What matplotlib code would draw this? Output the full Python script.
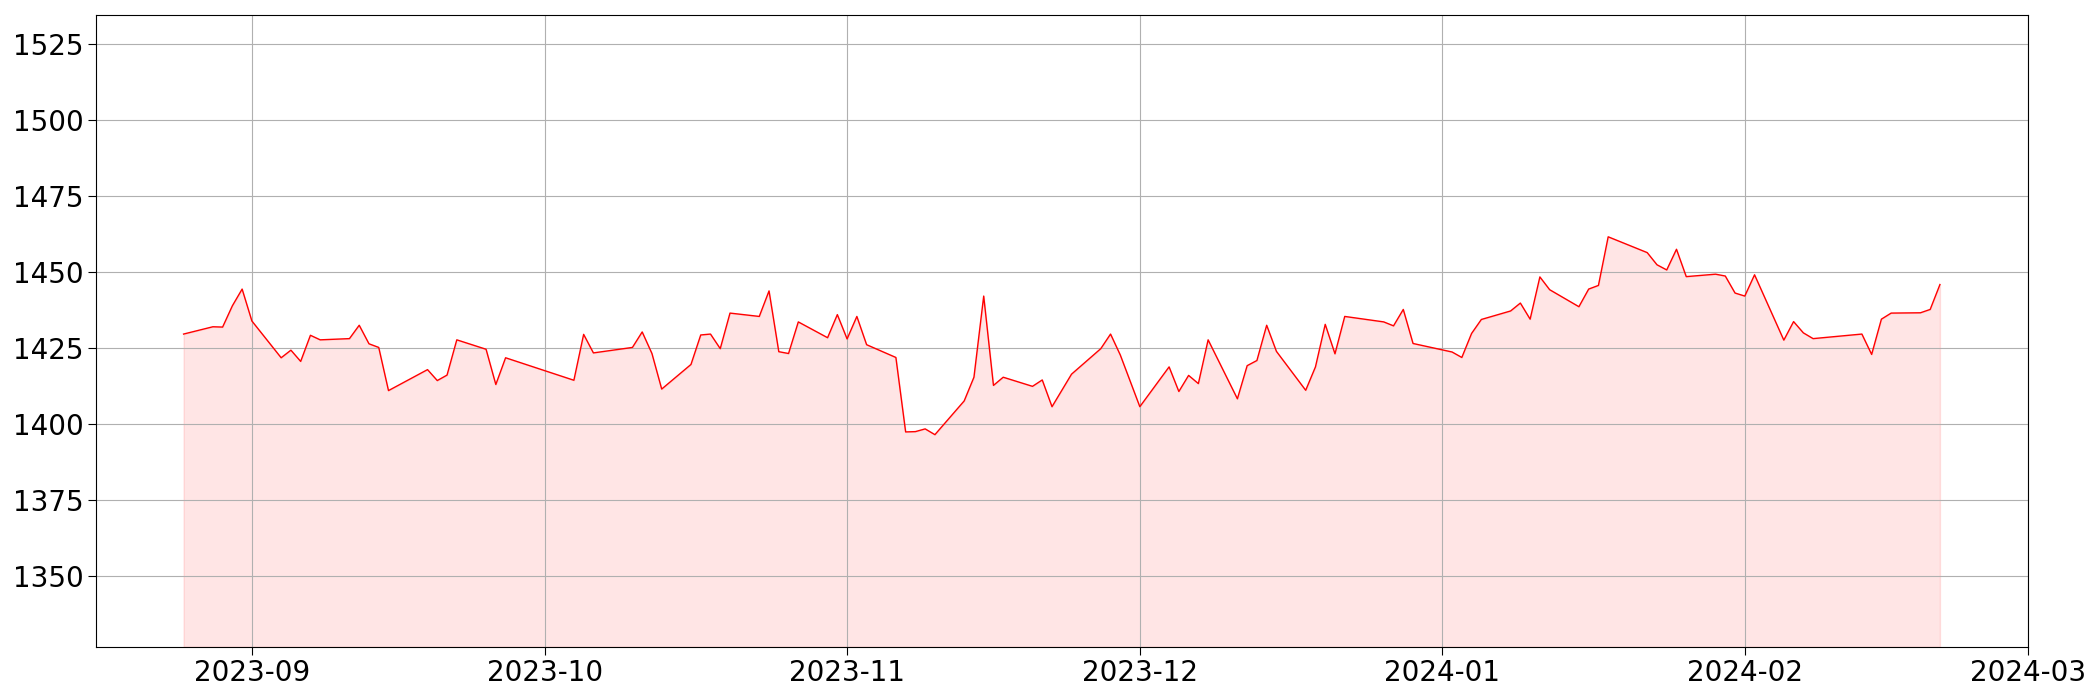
import matplotlib
matplotlib.use("Agg")
import matplotlib.pyplot as plt
import matplotlib.dates as mdates
import pandas as pd

# Trading days (some days missing in the source data)
dates = [
    "2023-08-25", "2023-08-28", "2023-08-29", "2023-08-30", "2023-08-31", "2023-09-01",
    "2023-09-04", "2023-09-05", "2023-09-06", "2023-09-07", "2023-09-08",
    "2023-09-11", "2023-09-12", "2023-09-13", "2023-09-14", "2023-09-15",
    "2023-09-19", "2023-09-20", "2023-09-21", "2023-09-22",
    "2023-09-25", "2023-09-26", "2023-09-27",
    "2023-10-04", "2023-10-05", "2023-10-06",
    "2023-10-10", "2023-10-11", "2023-10-12", "2023-10-13",
    "2023-10-16", "2023-10-17", "2023-10-18", "2023-10-19", "2023-10-20",
    "2023-10-23", "2023-10-24", "2023-10-25", "2023-10-26", "2023-10-27",
    "2023-10-30", "2023-10-31", "2023-11-01", "2023-11-02", "2023-11-03",
    "2023-11-06", "2023-11-07", "2023-11-08", "2023-11-09", "2023-11-10",
    "2023-11-13", "2023-11-14", "2023-11-15", "2023-11-16", "2023-11-17",
    "2023-11-20", "2023-11-21", "2023-11-22", "2023-11-24",
    "2023-11-27", "2023-11-28", "2023-11-29", "2023-12-01",
    "2023-12-04", "2023-12-05", "2023-12-06", "2023-12-07", "2023-12-08",
    "2023-12-11", "2023-12-12", "2023-12-13", "2023-12-14", "2023-12-15",
    "2023-12-18", "2023-12-19", "2023-12-20", "2023-12-21", "2023-12-22",
    "2023-12-26", "2023-12-27", "2023-12-28", "2023-12-29",
    "2024-01-02", "2024-01-03", "2024-01-04", "2024-01-05",
    "2024-01-08", "2024-01-09", "2024-01-10", "2024-01-11", "2024-01-12",
    "2024-01-15", "2024-01-16", "2024-01-17", "2024-01-18",
    "2024-01-22", "2024-01-23", "2024-01-24", "2024-01-25", "2024-01-26",
    "2024-01-29", "2024-01-30", "2024-01-31", "2024-02-01", "2024-02-02",
    "2024-02-05", "2024-02-06", "2024-02-07", "2024-02-08",
    "2024-02-13", "2024-02-14", "2024-02-15", "2024-02-16",
    "2024-02-19", "2024-02-20", "2024-02-21",
]

prices = [
    1429.6, 1432.0, 1431.9, 1438.9, 1444.4, 1433.9,
    1421.8, 1424.3, 1420.6, 1429.2, 1427.7,
    1428.1, 1432.5, 1426.4, 1425.2, 1411.0,
    1417.9, 1414.3, 1416.1, 1427.7,
    1424.6, 1413.0, 1421.8,
    1414.4, 1429.5, 1423.4,
    1425.2, 1430.3, 1423.2, 1411.5,
    1419.6, 1429.3, 1429.6, 1424.8, 1436.5,
    1435.4, 1443.8, 1423.8, 1423.2, 1433.6,
    1428.4, 1436.0, 1428.0, 1435.4, 1426.1,
    1421.9, 1397.4, 1397.5, 1398.4, 1396.5,
    1407.6, 1415.4, 1442.1, 1412.7, 1415.4,
    1412.4, 1414.5, 1405.7, 1416.4,
    1424.8, 1429.6, 1422.7, 1405.7,
    1418.8, 1410.7, 1416.0, 1413.3, 1427.7,
    1408.3, 1419.2, 1420.9, 1432.5, 1423.9,
    1411.1, 1418.8, 1432.8, 1423.1, 1435.4,
    1433.6, 1432.3, 1437.7, 1426.5,
    1423.7, 1421.9, 1429.8, 1434.4,
    1437.2, 1439.8, 1434.5, 1448.4, 1444.2,
    1438.6, 1444.4, 1445.6, 1461.6,
    1456.4, 1452.4, 1450.7, 1457.5, 1448.5,
    1449.3, 1448.7, 1443.1, 1442.1, 1449.1,
    1427.6, 1433.7, 1430.0, 1428.1,
    1429.6, 1422.9, 1434.5, 1436.5,
    1436.6, 1437.7, 1445.9,
]


def plot_price(time, price):
    """Plot price as a thin red line with a shaded area beneath it."""
    low = min(price) * 0.95
    high = max(price) * 1.05

    fig, ax = plt.subplots(figsize=(21, 7), dpi=100)
    fig.subplots_adjust(left=0.0456, right=0.9656, top=0.979, bottom=0.0759)

    ax.plot(time, price, color="red", linewidth=1.0)
    ax.fill_between(time, price, low, color="red", alpha=0.1)

    ax.set_ylim(low, high)
    ax.xaxis.set_major_locator(mdates.MonthLocator())
    ax.xaxis.set_major_formatter(mdates.DateFormatter("%Y-%m"))
    ax.tick_params(axis="both", labelsize=20, length=5.5)
    ax.grid(True)

    return fig


def main():
    time = pd.to_datetime(dates)
    fig = plot_price(time, prices)
    fig.savefig("out.png", dpi=100)


if __name__ == "__main__":
    main()
